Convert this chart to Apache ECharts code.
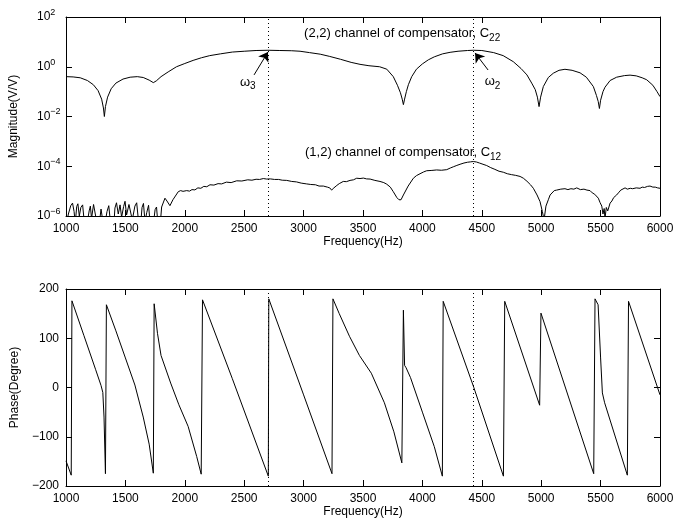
<!DOCTYPE html>
<html>
<head>
<meta charset="utf-8">
<script src="https://cdn.jsdelivr.net/npm/echarts@6/dist/echarts.min.js"></script>
<style>
  html, body { margin: 0; padding: 0; background: #fff; }
  #chart { width: 684px; height: 523px; }
</style>
</head>
<body>
<div id="chart"></div>
<script>
// Frequency response of the compensator: magnitude of C22 and C12, and phase.
const FONT = '"Liberation Sans", Arial, Helvetica, sans-serif';

const freqRange = [1000, 6000];
const freqTicks = 500;
const magRange = [1e-6, 1e2];
const phaseRange = [-200, 200];
const phaseTicks = 100;

// Peak frequencies marked with dotted lines (Hz)
const omega3 = 2703;
const omega2 = 4429;

// |C22| in V/V, [Hz, magnitude]
const c22 = [
  [1000, 0.40], [1060, 0.39], [1120, 0.36], [1180, 0.28], [1230, 0.19], [1270, 0.11],
  [1300, 0.05], [1315, 0.022], [1323, 0.010], [1332, 0.025], [1350, 0.06], [1380, 0.13],
  [1420, 0.22], [1480, 0.32], [1540, 0.38], [1600, 0.40], [1650, 0.37], [1700, 0.29],
  [1735, 0.23], [1760, 0.27], [1800, 0.40], [1860, 0.62], [1930, 1.0], [2000, 1.35],
  [2070, 1.8], [2140, 2.3], [2210, 2.8], [2300, 3.3], [2400, 3.9], [2500, 4.2],
  [2600, 4.5], [2700, 4.6], [2800, 4.5], [2900, 4.4], [2970, 4.2], [3050, 3.7],
  [3140, 3.2], [3220, 2.6], [3310, 2.0], [3400, 1.5], [3475, 1.25], [3550, 1.1],
  [3640, 1.0], [3700, 0.8], [3755, 0.4], [3790, 0.18], [3815, 0.09], [3830, 0.05],
  [3840, 0.03], [3850, 0.05], [3865, 0.1], [3882, 0.19], [3910, 0.40], [3950, 0.80],
  [4000, 1.3], [4050, 1.9], [4100, 2.5], [4170, 3.3], [4233, 3.8], [4300, 4.2],
  [4380, 4.5], [4430, 4.6], [4500, 4.5], [4600, 3.7], [4680, 2.8], [4765, 1.6],
  [4830, 0.85], [4880, 0.47], [4920, 0.22], [4950, 0.12], [4968, 0.06], [4982, 0.025],
  [4995, 0.06], [5018, 0.16], [5060, 0.37], [5102, 0.55], [5150, 0.72], [5200, 0.79],
  [5260, 0.72], [5327, 0.57], [5380, 0.38], [5439, 0.16], [5465, 0.07], [5480, 0.04],
  [5490, 0.021], [5500, 0.045], [5520, 0.10], [5537, 0.15], [5580, 0.28], [5635, 0.38],
  [5700, 0.44], [5748, 0.46], [5800, 0.43], [5850, 0.36], [5888, 0.30], [5940, 0.18],
  [5975, 0.10], [6000, 0.063]
];

// |C12| in V/V, [Hz, magnitude]; below 1800 Hz it is measurement noise
const c12 = [
  [1000, 4e-7], [1020, 1.2e-6], [1040, 2.6e-6], [1055, 3.3e-6], [1068, 1.5e-6], [1078, 5e-7],
  [1090, 2.4e-6], [1100, 3.1e-6], [1112, 1e-6], [1125, 2.2e-6], [1140, 2.8e-6], [1152, 7e-7],
  [1170, 3e-7], [1195, 1.6e-6], [1205, 2.5e-6], [1215, 8e-7], [1232, 2.9e-6], [1245, 3.2e-6],
  [1258, 6e-7], [1275, 3e-7], [1295, 1.9e-6], [1305, 9e-7], [1320, 3e-7], [1345, 1.5e-6],
  [1360, 2.6e-6], [1372, 7e-7], [1400, 3e-7], [1412, 2.1e-6], [1425, 3.4e-6], [1440, 1.2e-6],
  [1455, 2.8e-6], [1468, 9e-7], [1485, 2.4e-6], [1497, 3.9e-6], [1510, 1.1e-6], [1530, 2.9e-6],
  [1545, 3.3e-6], [1558, 7e-7], [1580, 2.5e-6], [1595, 3.4e-6], [1608, 8e-7], [1625, 3e-7],
  [1640, 2.2e-6], [1652, 3.2e-6], [1665, 6e-7], [1680, 1.4e-6], [1695, 2.7e-6], [1708, 5e-7],
  [1730, 3e-7], [1750, 1.8e-6], [1762, 2.3e-6], [1775, 4e-7], [1790, 3e-7],
  [1805, 2.3e-6], [1833, 5.2e-6], [1850, 4e-6], [1875, 2.6e-6], [1900, 4.5e-6],
  [1945, 9.5e-6], [1965, 1.05e-5], [1985, 9.8e-6], [2016, 1.05e-5], [2040, 1.0e-5], [2060, 1.15e-5],
  [2085, 1.12e-5], [2110, 1.35e-5], [2135, 1.3e-5], [2160, 1.55e-5], [2185, 1.5e-5], [2212, 1.8e-5],
  [2245, 1.75e-5], [2280, 2.0e-5], [2310, 1.95e-5], [2350, 2.3e-5], [2390, 2.2e-5], [2437, 2.6e-5],
  [2480, 2.55e-5], [2530, 2.85e-5], [2565, 2.75e-5], [2600, 3.0e-5], [2630, 2.95e-5], [2661, 3.2e-5],
  [2690, 3.05e-5], [2720, 3.1e-5], [2755, 2.95e-5], [2790, 2.95e-5], [2820, 2.75e-5], [2858, 2.7e-5],
  [2900, 2.45e-5], [2940, 2.35e-5], [2980, 2.1e-5], [3026, 1.95e-5], [3060, 1.85e-5], [3100, 1.8e-5],
  [3130, 1.6e-5], [3166, 1.6e-5], [3200, 1.45e-5], [3220, 1.35e-5], [3236, 1.1e-5], [3255, 1.35e-5],
  [3280, 1.7e-5], [3300, 2.0e-5], [3334, 2.45e-5], [3360, 2.4e-5], [3391, 2.7e-5], [3420, 2.85e-5],
  [3447, 3.3e-5], [3475, 3.2e-5], [3503, 3.35e-5], [3530, 3.1e-5], [3560, 3.05e-5], [3600, 2.7e-5],
  [3643, 2.45e-5], [3675, 2.2e-5], [3700, 1.9e-5], [3730, 1.45e-5], [3755, 9.5e-6], [3785, 5.5e-6],
  [3803, 4.5e-6], [3820, 4.5e-6], [3840, 7e-6], [3880, 1.6e-5], [3924, 3.3e-5], [3950, 4.2e-5],
  [3980, 5.0e-5], [4010, 5.9e-5], [4036, 6.6e-5], [4080, 6.8e-5], [4120, 7.1e-5], [4160, 6.9e-5],
  [4205, 7.3e-5], [4235, 8.5e-5], [4260, 9.5e-5], [4290, 1.08e-4], [4317, 1.2e-4], [4350, 1.35e-4],
  [4380, 1.45e-4], [4405, 1.5e-4], [4429, 1.55e-4], [4455, 1.48e-4], [4480, 1.35e-4], [4510, 1.2e-4],
  [4541, 1.07e-4], [4575, 8.8e-5], [4610, 7.5e-5], [4645, 6.3e-5], [4681, 5.75e-5], [4715, 5.0e-5],
  [4750, 4.6e-5], [4785, 4.3e-5], [4822, 3.9e-5], [4850, 3.3e-5], [4880, 2.5e-5], [4910, 1.8e-5],
  [4934, 1.3e-5], [4965, 7e-6], [4990, 3.8e-6], [5010, 1.5e-6], [5024, 7e-7], [5040, 2.5e-6],
  [5060, 4.5e-6], [5075, 7e-6], [5090, 8e-6], [5110, 1.05e-5], [5130, 1.1e-5], [5165, 1.2e-5],
  [5200, 1.25e-5], [5225, 1.15e-5], [5250, 1.25e-5], [5275, 1.2e-5], [5299, 1.35e-5], [5330, 1.15e-5],
  [5360, 1.2e-5], [5385, 1.1e-5], [5411, 1.05e-5], [5430, 8.5e-6], [5450, 7.5e-6], [5465, 6.5e-6],
  [5481, 5.2e-6], [5495, 3.5e-6], [5510, 2.5e-6], [5520, 1.2e-6], [5530, 2.0e-6], [5537, 8e-7],
  [5548, 2.2e-6], [5560, 1.6e-6], [5580, 3.3e-6], [5595, 4.0e-6], [5610, 5.5e-6], [5622, 4.8e-6],
  [5635, 7e-6], [5650, 8.5e-6], [5670, 1.1e-5], [5685, 1.05e-5], [5706, 1.35e-5], [5725, 1.2e-5],
  [5750, 1.3e-5], [5770, 1.25e-5], [5800, 1.35e-5], [5832, 1.3e-5], [5850, 1.45e-5], [5870, 1.4e-5],
  [5895, 1.55e-5], [5916, 1.6e-5], [5940, 1.45e-5], [5960, 1.45e-5], [5980, 1.35e-5], [6000, 1.3e-5]
];

// Phase of C22 in degrees, [Hz, degree]
const phase = [
  [1000, -149], [1044, -178], [1050, 176], [1150, 106], [1250, 36], [1295, 4], [1310, -10],
  [1320, -60], [1332, -175], [1340, 168], [1420, 115], [1500, 60], [1580, 5], [1650, -60],
  [1700, -115], [1735, -174], [1742, 170], [1770, 110], [1800, 65], [1881, 9], [1950, -35],
  [2028, -79], [2100, -140], [2138, -176], [2149, 178], [2400, 18], [2703, -180], [2707, 180],
  [3000, -15], [3239, -175], [3247, 180], [3300, 150], [3386, 104], [3470, 65], [3570, 29],
  [3680, -31], [3760, -90], [3827, -153], [3840, 157], [3850, 45], [3863, 40], [3900, 20],
  [4000, -50], [4100, -120], [4168, -180], [4175, 175], [4433, 0], [4682, -180], [4693, 175],
  [4987, -36], [4998, 151], [5442, -175], [5453, 180], [5479, 168], [5500, 60], [5515, -11],
  [5534, -31], [5725, -178], [5735, 175], [6000, -15]
];

// Arrow annotations pointing to the C22 peaks: [tail, head, label position]
const arrowW3 = [[2583, 0.47], [2700, 3.9], [2530, 0.24]];
const arrowW2 = [[4553, 0.74], [4443, 3.6], [4590, 0.25]];
const c22TitlePos = [3004, 21];
const c12TitlePos = [3012, 3.5e-4];

const chart = echarts.init(document.getElementById('chart'), null, { renderer: 'canvas' });

const axisCommon = {
  axisLine: { show: true, onZero: false, lineStyle: { color: '#000', width: 1 } },
  axisTick: { show: true, inside: true, length: 6, lineStyle: { color: '#000' } },
  splitLine: { show: false },
  nameTextStyle: { color: '#000', fontFamily: FONT, fontSize: 12 }
};
const labelStyle = { color: '#000', fontFamily: FONT, fontSize: 12 };

function freqAxis(grid, pos, labels, nameGap) {
  return Object.assign({}, axisCommon, {
    type: 'value', gridIndex: grid, position: pos,
    min: freqRange[0], max: freqRange[1], interval: freqTicks,
    name: labels ? 'Frequency(Hz)' : '', nameLocation: 'middle', nameGap: nameGap,
    axisLabel: Object.assign({ show: labels, margin: 7, formatter: v => String(v) }, labelStyle)
  });
}

function supExp(v) {
  const e = Math.round(Math.log10(v));
  return '{b|10}{s|' + (e < 0 ? '\u2212' + (-e) : e) + '}';
}

function magAxis(pos, labels) {
  return Object.assign({}, axisCommon, {
    type: 'log', logBase: 10, gridIndex: 0, position: pos,
    min: magRange[0], max: magRange[1], interval: 2,
    minorTick: { show: false },
    name: labels ? 'Magnitude(V/V)' : '', nameLocation: 'middle', nameGap: 46,
    axisLabel: {
      show: labels, margin: 29, align: 'left', formatter: supExp,
      rich: {
        b: { fontFamily: FONT, fontSize: 12, color: '#000' },
        s: { fontFamily: FONT, fontSize: 9, color: '#000', padding: [0, 0, 9, 0] }
      }
    }
  });
}

function phaseAxis(pos, labels) {
  return Object.assign({}, axisCommon, {
    type: 'value', gridIndex: 1, position: pos,
    min: phaseRange[0], max: phaseRange[1], interval: phaseTicks,
    name: labels ? 'Phase(Degree)' : '', nameLocation: 'middle', nameGap: 42,
    axisLabel: Object.assign({
      show: labels, margin: 7,
      formatter: v => (v < 0 ? '\u2212' + (-v) : String(v))
    }, labelStyle)
  });
}

const dotted = { color: '#000', width: 1, type: [1, 3] };

function subLabel(main, sub) {
  return '{m|' + main + '}{u|' + sub + '}';
}
const subRich = {
  m: { fontFamily: FONT, fontSize: 13, color: '#000' },
  u: { fontFamily: FONT, fontSize: 10, color: '#000', padding: [9, 0, 0, 0] }
};

function textPoint(coord, text, align) {
  return {
    coord: coord, symbolSize: 0,
    label: { show: true, position: 'inside', align: align, verticalAlign: 'middle', formatter: text, rich: subRich }
  };
}

const option = {
  animation: false,
  backgroundColor: '#fff',
  grid: [
    { left: 66, top: 17, width: 594, height: 199, show: false },
    { left: 66, top: 289, width: 594, height: 197, show: false }
  ],
  xAxis: [
    freqAxis(0, 'bottom', true, 11),
    freqAxis(0, 'top', false, 0),
    freqAxis(1, 'bottom', true, 18),
    freqAxis(1, 'top', false, 0)
  ],
  yAxis: [
    magAxis('left', true),
    magAxis('right', false),
    phaseAxis('left', true),
    phaseAxis('right', false)
  ],
  series: [
    {
      type: 'line', name: 'C22', xAxisIndex: 0, yAxisIndex: 0, data: c22,
      showSymbol: false, smooth: false, clip: true,
      lineStyle: { color: '#000', width: 1 },
      markLine: {
        silent: true, symbol: 'none', label: { show: false },
        lineStyle: dotted,
        data: [{ xAxis: omega3 }, { xAxis: omega2 }]
      },
      markPoint: {
        silent: true,
        data: [
          textPoint(c22TitlePos, subLabel('(2,2) channel of compensator, C', '22'), 'left'),
          textPoint(arrowW3[2], subLabel('\u03c9', '3'), 'center'),
          textPoint(arrowW2[2], subLabel('\u03c9', '2'), 'center')
        ]
      }
    },
    {
      type: 'line', name: 'C12', xAxisIndex: 0, yAxisIndex: 0, data: c12,
      showSymbol: false, smooth: false, clip: true,
      lineStyle: { color: '#000', width: 1 },
      markLine: {
        silent: true, symbol: ['none', 'arrow'], symbolSize: 9,
        label: { show: false },
        lineStyle: { color: '#000', width: 1, type: 'solid' },
        itemStyle: { color: '#000' },
        data: [
          [{ coord: arrowW3[0] }, { coord: arrowW3[1] }],
          [{ coord: arrowW2[0] }, { coord: arrowW2[1] }]
        ]
      },
      markPoint: {
        silent: true,
        data: [textPoint(c12TitlePos, subLabel('(1,2) channel of compensator, C', '12'), 'left')]
      }
    },
    {
      type: 'line', name: 'Phase', xAxisIndex: 2, yAxisIndex: 2, data: phase,
      showSymbol: false, smooth: false, clip: true,
      lineStyle: { color: '#000', width: 1 },
      markLine: {
        silent: true, symbol: 'none', label: { show: false },
        lineStyle: dotted,
        data: [{ xAxis: omega3 }, { xAxis: omega2 }]
      }
    }
  ]
};

chart.setOption(option);
</script>
</body>
</html>
